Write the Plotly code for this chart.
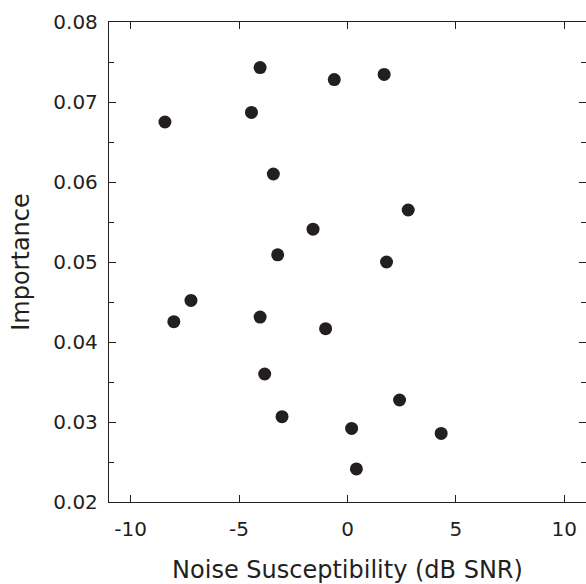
import plotly.graph_objects as go

noise_susceptibility = [-4.03, -0.61, 1.69, -4.43, -8.42, -3.42, 2.80, -1.59, -3.22, 1.80,
                        -7.22, -8.01, -4.03, -1.01, -3.82, 2.40, -3.02, 0.19, 4.32, 0.41]
importance = [0.0743, 0.0728, 0.07345, 0.0687, 0.0675, 0.0610, 0.0565, 0.0541, 0.0509, 0.0500,
              0.0452, 0.04254, 0.04312, 0.04166, 0.0360, 0.03275, 0.03066, 0.0292, 0.02857, 0.02413]

x_ticks = [-10, -5, 0, 5, 10]
y_ticks = [0.02, 0.03, 0.04, 0.05, 0.06, 0.07, 0.08]

ink = "#231f20"
font_family = "DejaVu Sans, Arial, sans-serif"

fig = go.Figure()
fig.add_trace(go.Scatter(
    x=noise_susceptibility, y=importance, mode="markers",
    marker=dict(size=13, color=ink, line=dict(width=0)),
    showlegend=False, hoverinfo="x+y",
))
# invisible trace to activate right-side y axis ticks
fig.add_trace(go.Scatter(x=[None], y=[None], yaxis="y2", showlegend=False, hoverinfo="skip"))

fig.update_layout(
    width=586, height=584,
    margin=dict(l=109, r=0, t=22, b=82),
    paper_bgcolor="white", plot_bgcolor="white",
    font=dict(family=font_family, color=ink, size=20),
    xaxis=dict(
        range=[-11, 11], tickvals=x_ticks, ticktext=[str(v) for v in x_ticks],
        ticks="inside", ticklen=7, tickwidth=1.3, tickcolor=ink,
        showline=True, linecolor=ink, linewidth=1.3, mirror="ticks",
        showgrid=False, zeroline=False,
        tickfont=dict(size=20), ticklabelstandoff=9,
        title=dict(text="Noise Susceptibility (dB SNR)", font=dict(size=24), standoff=21),
    ),
    yaxis=dict(
        range=[0.02, 0.08], tickvals=y_ticks, ticktext=[f"{v:.2f}" for v in y_ticks],
        ticks="inside", ticklen=7, tickwidth=1.3, tickcolor=ink,
        minor=dict(dtick=0.005, tick0=0.02, ticks="inside", ticklen=5, tickwidth=1.3, tickcolor=ink, showgrid=False),
        showline=True, linecolor=ink, linewidth=1.3, mirror=False,
        showgrid=False, zeroline=False,
        tickfont=dict(size=20), ticklabelstandoff=6,
        title=dict(text="Importance", font=dict(size=24), standoff=16),
    ),
    yaxis2=dict(
        overlaying="y", side="right", matches="y", range=[0.02, 0.08],
        tickvals=y_ticks, showticklabels=False,
        ticks="inside", ticklen=7, tickwidth=1.3, tickcolor=ink,
        minor=dict(dtick=0.005, tick0=0.02, ticks="inside", ticklen=5, tickwidth=1.3, tickcolor=ink, showgrid=False),
        showline=False, showgrid=False, zeroline=False,
    ),
)

fig.write_html(
    "out.html",
    config={"displayModeBar": False},
    post_script="document.body.style.margin='0';document.body.style.overflow='hidden';",
)
